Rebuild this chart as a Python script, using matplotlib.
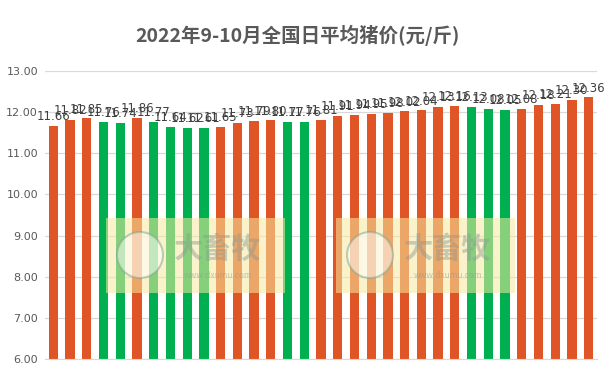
import matplotlib
matplotlib.use("Agg")
import matplotlib.pyplot as plt
from matplotlib.patches import Rectangle, Ellipse

plt.rcParams['font.family'] = ['Noto Sans CJK SC', 'DejaVu Sans']

# datos: precio medio diario del cerdo, sep-oct 2022
precios = [11.66, 11.82, 11.85, 11.76, 11.74, 11.86, 11.77, 11.64, 11.62, 11.61,
           11.65, 11.73, 11.79, 11.80, 11.77, 11.76, 11.81, 11.91, 11.94, 11.95,
           11.98, 12.02, 12.04, 12.13, 12.16, 12.13, 12.08, 12.05, 12.08, 12.18,
           12.21, 12.30, 12.36]
yticks = [6.00, 7.00, 8.00, 9.00, 10.00, 11.00, 12.00, 13.00]
titulo = "2022年9-10月全国日平均猪价(元/斤)"

rojo = "#E05526"
verde = "#00B050"

# color: sube -> rojo, baja -> verde
colores = []
for i in range(len(precios)):
    if i == 0 or precios[i] >= precios[i-1]:
        colores.append(rojo)
    else:
        colores.append(verde)

fig = plt.figure(figsize=(6.09, 3.77), dpi=100)
ax = fig.add_axes([45/609, 18/377, 552/609, 288/377])

x = list(range(len(precios)))
ax.bar(x, precios, width=0.55, color=colores, zorder=2)
for i in x:
    ax.annotate("%.2f" % precios[i], (i, precios[i]), xytext=(0, 2), textcoords="offset points",
                ha="center", va="bottom", fontsize=8.5, color="#404040", family="DejaVu Sans", zorder=4)

ax.set_ylim(6, 13)
ax.set_xlim(-0.5, len(precios) - 0.5)
ax.set_yticks(yticks)
ax.set_yticklabels(["%.2f" % v for v in yticks], fontsize=8, color="#595959", family="DejaVu Sans")
ax.set_xticks([])
ax.grid(axis="y", color="#D9D9D9", linewidth=0.9, zorder=0)
ax.tick_params(axis="y", length=0, pad=5)
for s in ["top", "right", "left"]:
    ax.spines[s].set_visible(False)
ax.spines["bottom"].set_color("#D9D9D9")

fig.text(297/609, 1 - 35/377, titulo, ha="center", va="center", fontsize=14,
         fontweight="bold", color="#595959")

# marcas de agua
for x0 in [106, 336]:
    fig.patches.append(Rectangle((x0/609, 1 - 293/377), 179/609, 75/377, transform=fig.transFigure,
                                 facecolor="#F5E9A0", alpha=0.55, edgecolor="none", zorder=5))
    fig.patches.append(Ellipse(((x0 + 34)/609, 1 - 255/377), 46/609, 46/377, transform=fig.transFigure,
                               facecolor="#FFFFFF", edgecolor="#7FA38F", alpha=0.5, lw=1.5, zorder=6))
    fig.text((x0 + 112)/609, 1 - 249/377, "大畜牧", ha="center", va="center", fontsize=21,
             fontweight="bold", color="#8A9A90", alpha=0.45, zorder=7)
    fig.text((x0 + 112)/609, 1 - 276/377, "www.dxumu.com", ha="center", va="center", fontsize=6,
             color="#8A9A90", alpha=0.5, zorder=7)

plt.savefig("out.png", dpi=100)
